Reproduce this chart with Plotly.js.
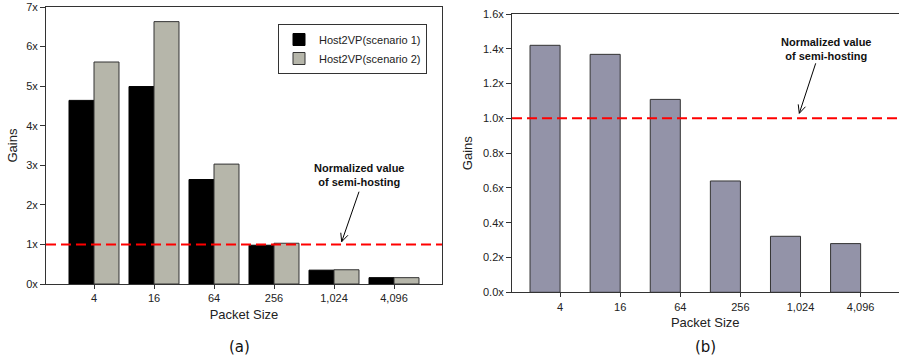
<!DOCTYPE html>
<html><head><meta charset="utf-8">
<script src="https://cdn.plot.ly/plotly-3.0.1.min.js"></script>
<style>html,body{margin:0;padding:0;background:#fff}#chart{width:899px;height:361px}</style>
</head><body><div id="chart"></div>
<script>
// ---- data ----
const packetSizes = ["4", "16", "64", "256", "1,024", "4,096"];
const scenario1 = [4.64, 4.99, 2.64, 0.98, 0.35, 0.16];
const scenario2 = [5.61, 6.63, 3.03, 1.03, 0.36, 0.16];
const panelB = [1.42, 1.368, 1.109, 0.64, 0.322, 0.28];
const leftTickLabels = ["0x", "1x", "2x", "3x", "4x", "5x", "6x", "7x"];
const leftTickVals = [0, 1, 2, 3, 4, 5, 6, 7];
const normalizedValue = 1;
const seriesNames = ["Host2VP(scenario 1)", "Host2VP(scenario 2)"];

const W = 899, H = 361;
const px = (x) => x / W, py = (y) => 1 - y / H;
function arrowPath(x0, y0, x1, y1) {
  const dx = x1 - x0, dy = y1 - y0, L = Math.hypot(dx, dy);
  const bx = -dx / L, by = -dy / L, a = 25 * Math.PI / 180, len = 9;
  const r1 = [bx * Math.cos(a) - by * Math.sin(a), bx * Math.sin(a) + by * Math.cos(a)];
  const r2 = [bx * Math.cos(a) + by * Math.sin(a), -bx * Math.sin(a) + by * Math.cos(a)];
  const p = (x, y) => px(x) + ',' + py(y);
  return 'M' + p(x0, y0) + ' L' + p(x1, y1) +
    ' M' + p(x1 + r1[0] * len, y1 + r1[1] * len) + ' L' + p(x1, y1) +
    ' L' + p(x1 + r2[0] * len, y1 + r2[1] * len);
}

const FONT = "Liberation Sans, Arial, sans-serif";
const traces = [
  {type: 'bar', x: packetSizes, y: scenario1, name: seriesNames[0], xaxis: 'x', yaxis: 'y',
   marker: {color: '#000000', line: {color: '#000000', width: 1}}},
  {type: 'bar', x: packetSizes, y: scenario2, name: seriesNames[1], xaxis: 'x', yaxis: 'y',
   marker: {color: '#b6b6aa', line: {color: '#333333', width: 1}}},
  {type: 'bar', x: packetSizes, y: panelB, name: 'b', showlegend: false, xaxis: 'x2', yaxis: 'y2',
   offset: -0.5, width: 0.5,
   marker: {color: '#9393a8', line: {color: '#333333', width: 1}}}
];

const axisCommon = {
  showline: true, linecolor: '#333', linewidth: 1, showgrid: false, zeroline: false,
  ticks: 'outside', tickcolor: '#333', ticklen: 4, automargin: false,
  tickfont: {family: FONT, size: 11, color: '#222'}, fixedrange: true
};

const layout = {
  width: W, height: H, margin: {l: 0, r: 0, t: 0, b: 0},
  paper_bgcolor: '#fff', plot_bgcolor: '#fff',
  font: {family: FONT, size: 11, color: '#222'},
  barmode: 'group', bargap: 0.167, bargroupgap: 0,
  showlegend: true,
  legend: {x: px(278), y: py(24), xanchor: 'left', yanchor: 'top',
    bordercolor: '#333', borderwidth: 1, bgcolor: '#fff',
    font: {family: FONT, size: 11, color: '#222'}, tracegroupgap: 0},
  xaxis: Object.assign({}, axisCommon, {domain: [px(46), px(442)], range: [-0.8, 5.8], mirror: true,
    anchor: 'y', type: 'category',
    title: {text: 'Packet Size', font: {family: FONT, size: 13, color: '#222'}, standoff: 6}}),
  yaxis: Object.assign({}, axisCommon, {domain: [py(284), py(7)], range: [0, 7], mirror: true,
    anchor: 'x', tickmode: 'array', tickvals: leftTickVals, ticktext: leftTickLabels, ticklen: 5,
    title: {text: 'Gains', font: {family: FONT, size: 13, color: '#222'}, standoff: 5}}),
  xaxis2: Object.assign({}, axisCommon, {domain: [px(512), px(898.5)], range: [-0.8, 5.63], mirror: true,
    anchor: 'y2', type: 'category',
    title: {text: 'Packet Size', font: {family: FONT, size: 13, color: '#222'}, standoff: 6}}),
  yaxis2: Object.assign({}, axisCommon, {domain: [py(292.3), py(14)], range: [0, 1.6],
    anchor: 'x2', dtick: 0.2, tick0: 0, tickformat: '.1f', ticksuffix: 'x', ticklen: 5,
    title: {text: 'Gains', font: {family: FONT, size: 13, color: '#222'}, standoff: 7}}),
  shapes: [
    {type: 'line', xref: 'x domain', yref: 'y', x0: 0, x1: 1, y0: normalizedValue, y1: normalizedValue,
     line: {color: '#ff0000', width: 2, dash: '10px,5px'}},
    {type: 'line', xref: 'x2 domain', yref: 'y2', x0: 0, x1: 1, y0: normalizedValue, y1: normalizedValue,
     line: {color: '#ff0000', width: 2, dash: '10px,5px'}},
    {type: 'path', xref: 'paper', yref: 'paper', path: arrowPath(359, 191.7, 341.7, 241.7),
     line: {color: '#000', width: 1}},
    {type: 'path', xref: 'paper', yref: 'paper', path: arrowPath(815.7, 63.3, 799.3, 113.3),
     line: {color: '#000', width: 1}}
  ],
  annotations: [
    {xref: 'paper', yref: 'paper', x: px(359), y: py(175), xanchor: 'center', yanchor: 'middle',
     text: '<b>Normalized value<br>of semi-hosting</b>', showarrow: false, align: 'center',
     font: {family: FONT, size: 11, color: '#111'}},
    {xref: 'paper', yref: 'paper', x: px(826), y: py(49), xanchor: 'center', yanchor: 'middle',
     text: '<b>Normalized value<br>of semi-hosting</b>', showarrow: false, align: 'center',
     font: {family: FONT, size: 11, color: '#111'}},
    {xref: 'paper', yref: 'paper', x: px(239), y: py(347), xanchor: 'center', yanchor: 'middle',
     text: '(a)', showarrow: false, font: {family: 'DejaVu Sans', size: 15, color: '#111'}},
    {xref: 'paper', yref: 'paper', x: px(705), y: py(347), xanchor: 'center', yanchor: 'middle',
     text: '(b)', showarrow: false, font: {family: 'DejaVu Sans', size: 15, color: '#111'}}
  ]
};

Plotly.newPlot('chart', traces, layout, {displayModeBar: false, staticPlot: true});
</script></body></html>
